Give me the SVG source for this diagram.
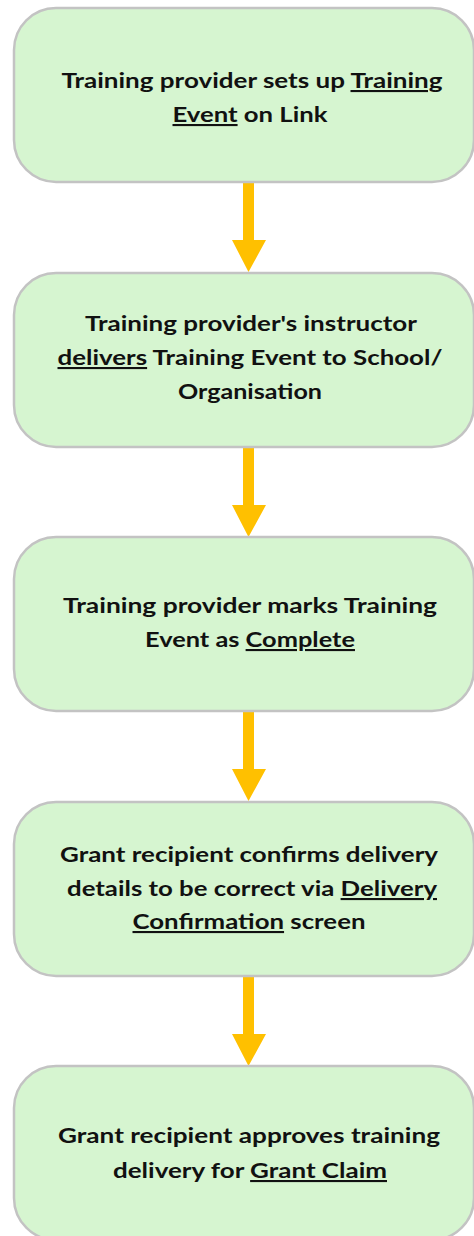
<svg xmlns="http://www.w3.org/2000/svg" width="474" height="1236" viewBox="0 0 474 1236">
<style>
.box{fill:#d6f5d0;stroke:#c3c3c3;stroke-width:2.5}
.t{font-family:Lato,"Open Sans","Liberation Sans",sans-serif;font-weight:bold;font-size:21px;fill:#111;text-anchor:middle}
.u{text-decoration:underline}
.arr{fill:#ffc000}
</style>
<rect width="474" height="1236" fill="#ffffff"/>
<g id="connectors">
<path class="arr" d="M243,183 H254 V240 H266 L248.5,272 L232,240 H243 Z"/>
<path class="arr" d="M243,448 H254 V505 H266 L248.5,537 L232,505 H243 Z"/>
<path class="arr" d="M243,712 H254 V769 H266 L248.5,801 L232,769 H243 Z"/>
<path class="arr" d="M243,977 H254 V1034 H266 L248.5,1066 L232,1034 H243 Z"/>
</g>
<g id="node1">
<rect class="box" x="14" y="8" width="460" height="174" rx="42"/>
<text class="t" x="252" y="88" textLength="381" lengthAdjust="spacingAndGlyphs">Training provider sets up <tspan class="u">Training</tspan></text>
<text class="t" x="250" y="122" textLength="155" lengthAdjust="spacingAndGlyphs"><tspan class="u">Event</tspan> on Link</text>
</g>
<g id="node2">
<rect class="box" x="14" y="273" width="460" height="174" rx="42"/>
<text class="t" x="251" y="331" textLength="332" lengthAdjust="spacingAndGlyphs">Training provider's instructor</text>
<text class="t" x="250" y="365" textLength="385" lengthAdjust="spacingAndGlyphs"><tspan class="u">delivers</tspan> Training Event to School/</text>
<text class="t" x="250" y="399" textLength="144" lengthAdjust="spacingAndGlyphs">Organisation</text>
</g>
<g id="node3">
<rect class="box" x="14" y="537" width="460" height="174" rx="42"/>
<text class="t" x="250" y="613" textLength="374" lengthAdjust="spacingAndGlyphs">Training provider marks Training</text>
<text class="t" x="250" y="647" textLength="210" lengthAdjust="spacingAndGlyphs">Event as <tspan class="u">Complete</tspan></text>
</g>
<g id="node4">
<rect class="box" x="14" y="802" width="460" height="174" rx="42"/>
<text class="t" x="249" y="862" textLength="378" lengthAdjust="spacingAndGlyphs">Grant recipient confirms delivery</text>
<text class="t" x="252" y="896" textLength="370" lengthAdjust="spacingAndGlyphs">details to be correct via <tspan class="u">Delivery</tspan></text>
<text class="t" x="249" y="929" textLength="233" lengthAdjust="spacingAndGlyphs"><tspan class="u">Confirmation</tspan> screen</text>
</g>
<g id="node5">
<rect class="box" x="14" y="1066" width="460" height="174" rx="42"/>
<text class="t" x="249" y="1143" textLength="382" lengthAdjust="spacingAndGlyphs">Grant recipient approves training</text>
<text class="t" x="250" y="1178" textLength="274" lengthAdjust="spacingAndGlyphs">delivery for <tspan class="u">Grant Claim</tspan></text>
</g>
</svg>
